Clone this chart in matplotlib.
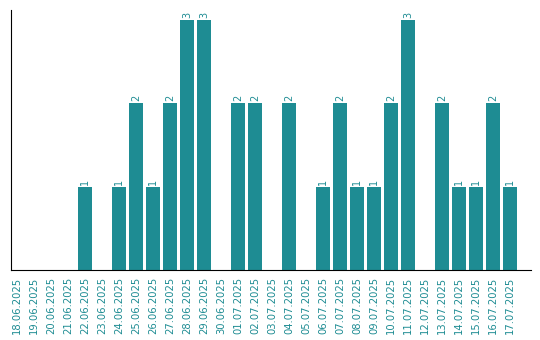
import matplotlib
matplotlib.use('Agg')
import matplotlib.pyplot as plt

dates = ['18.06.2025', '19.06.2025', '20.06.2025', '21.06.2025', '22.06.2025',
         '23.06.2025', '24.06.2025', '25.06.2025', '26.06.2025', '27.06.2025',
         '28.06.2025', '29.06.2025', '30.06.2025', '01.07.2025', '02.07.2025',
         '03.07.2025', '04.07.2025', '05.07.2025', '06.07.2025', '07.07.2025',
         '08.07.2025', '09.07.2025', '10.07.2025', '11.07.2025', '12.07.2025',
         '13.07.2025', '14.07.2025', '15.07.2025', '16.07.2025', '17.07.2025']
counts = [0, 0, 0, 0, 1, 0, 1, 2, 1, 2, 3, 3, 0, 2, 2, 0, 2, 0, 1, 2,
          1, 1, 2, 3, 0, 2, 1, 1, 2, 1]

teal = '#1e8c93'

fig = plt.figure(figsize=(5.4, 3.4), dpi=100)
ax = fig.add_axes([10.5 / 540, 70 / 340, 520 / 540, 260 / 340])

x = range(len(dates))
bars = ax.bar(x, counts, width=0.82, color=teal)

for i, v in enumerate(counts):
    if v > 0:
        ax.text(i, v + 0.025, str(v), rotation=90, ha='center', va='bottom',
                color=teal, fontsize=7)

ax.set_xlim(-0.38, 30.2)
ax.set_ylim(0, 3.12)
ax.set_xticks(list(x))
ax.set_xticklabels(dates, rotation=90, color=teal, fontsize=7.2)
ax.tick_params(axis='x', length=0, pad=5)
ax.set_yticks([])

ax.spines['top'].set_visible(False)
ax.spines['right'].set_visible(False)
ax.spines['left'].set_color('black')
ax.spines['bottom'].set_color('black')

fig.savefig('out.png', dpi=100)
